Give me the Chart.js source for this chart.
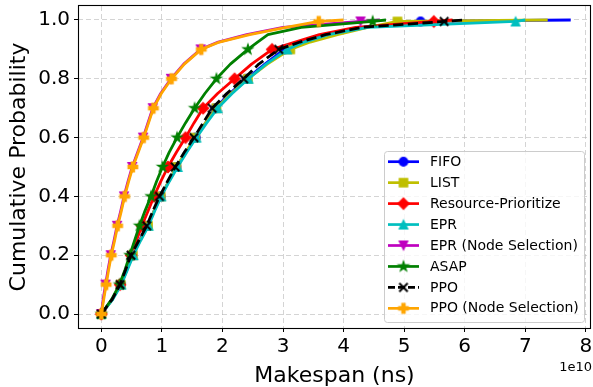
<!DOCTYPE html>
<html>
<head>
<meta charset="utf-8">
<script src="https://cdn.jsdelivr.net/npm/chart.js@4.4.1/dist/chart.umd.min.js"></script>
<style>
  html, body { margin: 0; padding: 0; background: #fff; }
  canvas { display: block; }
</style>
</head>
<body>
<canvas id="cdfChart" width="593" height="387"></canvas>
<script>
// cumulative probability levels shared by every curve
const probLevels = [0, 0.05, 0.1, 0.15, 0.2, 0.25, 0.3, 0.35, 0.4, 0.45, 0.5, 0.55, 0.6, 0.65, 0.7, 0.75, 0.8, 0.85, 0.9, 0.925, 0.95, 0.975, 0.995, 1.0];

// makespan at each level, in units of 1e10 ns
const fifo        = [0, 0.18, 0.32, 0.42, 0.51, 0.63, 0.76, 0.87, 0.98, 1.11, 1.24, 1.40, 1.56, 1.72, 1.88, 2.12, 2.40, 2.70, 3.02, 3.30, 3.70, 4.30, 5.27, 7.75];
const list        = [0, 0.18, 0.32, 0.42, 0.52, 0.64, 0.77, 0.87, 0.98, 1.11, 1.24, 1.39, 1.55, 1.72, 1.90, 2.14, 2.42, 2.74, 3.12, 3.45, 3.90, 4.40, 4.89, 7.37];
const resPrio     = [0, 0.18, 0.31, 0.40, 0.49, 0.58, 0.67, 0.77, 0.87, 0.98, 1.10, 1.24, 1.39, 1.53, 1.68, 1.92, 2.20, 2.48, 2.82, 3.20, 3.60, 4.20, 5.49, 5.80];
const epr         = [0, 0.19, 0.33, 0.43, 0.53, 0.65, 0.78, 0.88, 0.99, 1.12, 1.26, 1.41, 1.57, 1.74, 1.92, 2.16, 2.43, 2.72, 3.07, 3.35, 3.75, 4.40, 6.84, 7.00];
const eprNode     = [0, 0.03, 0.07, 0.11, 0.155, 0.21, 0.26, 0.32, 0.375, 0.44, 0.51, 0.60, 0.69, 0.77, 0.85, 0.98, 1.15, 1.36, 1.64, 1.93, 2.40, 3.00, 4.28, 4.60];
const asap        = [0, 0.17, 0.30, 0.39, 0.47, 0.55, 0.63, 0.72, 0.82, 0.91, 1.01, 1.12, 1.25, 1.39, 1.54, 1.71, 1.90, 2.13, 2.42, 2.58, 2.75, 3.30, 4.48, 4.70];
const ppo         = [0, 0.18, 0.31, 0.40, 0.49, 0.62, 0.75, 0.85, 0.96, 1.09, 1.22, 1.37, 1.53, 1.68, 1.83, 2.07, 2.35, 2.60, 2.93, 3.28, 3.70, 4.30, 5.66, 6.00];
const ppoNode     = [0, 0.04, 0.08, 0.12, 0.165, 0.22, 0.27, 0.33, 0.385, 0.45, 0.52, 0.61, 0.70, 0.78, 0.86, 0.99, 1.16, 1.37, 1.65, 1.95, 2.45, 3.05, 3.59, 4.00];

const seriesNames = ['FIFO', 'LIST', 'Resource-Prioritize', 'EPR', 'EPR (Node Selection)', 'ASAP', 'PPO', 'PPO (Node Selection)'];
const seriesData = [fifo, list, resPrio, epr, eprNode, asap, ppo, ppoNode];

const xTicks = [0, 1, 2, 3, 4, 5, 6, 7, 8];
const yTicks = [0, 0.2, 0.4, 0.6, 0.8, 1.0];

const colors  = ['#0000ff', '#bfbf00', '#ff0000', '#00bfbf', '#bf00bf', '#008000', '#000000', '#ffa500'];
const shapes  = ['o', 's', 'D', '^', 'v', '*', 'x', 'P'];
const dashes  = [[], [], [], [], [], [], [10.3, 4.4], []];

// small canvases used as point styles (matplotlib-like markers)
function makeMarker(shape, color) {
  const size = 18, m = size / 2;
  const c = document.createElement('canvas');
  c.width = c.height = size;
  const g = c.getContext('2d');
  g.fillStyle = color;
  g.strokeStyle = color;
  g.lineWidth = 1.2;
  g.beginPath();
  if (shape === 'o') {
    g.arc(m, m, 4.3, 0, Math.PI * 2);
  } else if (shape === 's') {
    g.rect(m - 4.2, m - 4.2, 8.4, 8.4);
  } else if (shape === 'D') {
    g.moveTo(m, m - 5.6); g.lineTo(m + 5.6, m); g.lineTo(m, m + 5.6); g.lineTo(m - 5.6, m);
    g.closePath();
  } else if (shape === '^' || shape === 'v') {
    const s = shape === '^' ? 1 : -1;
    g.moveTo(m, m - 4.3 * s); g.lineTo(m - 4.3, m + 4.3 * s); g.lineTo(m + 4.3, m + 4.3 * s);
    g.closePath();
  } else if (shape === '*') {
    for (let k = 0; k < 10; k++) {
      const r = k % 2 ? 2.0 : 5.2;
      const a = -Math.PI / 2 + k * Math.PI / 5;
      g.lineTo(m + r * Math.cos(a), m + r * Math.sin(a));
    }
    g.closePath();
  } else if (shape === 'P') {
    const r = 4.8, t = r / 3;
    const pts = [[-t, -r], [t, -r], [t, -t], [r, -t], [r, t], [t, t], [t, r], [-t, r], [-t, t], [-r, t], [-r, -t], [-t, -t]];
    pts.forEach(([px, py], k) => k ? g.lineTo(m + px, m + py) : g.moveTo(m + px, m + py));
    g.closePath();
  } else if (shape === 'x') {
    g.lineWidth = 2;
    g.moveTo(m - 4.2, m - 4.2); g.lineTo(m + 4.2, m + 4.2);
    g.moveTo(m + 4.2, m - 4.2); g.lineTo(m - 4.2, m + 4.2);
    g.stroke();
    return c;
  }
  g.fill();
  g.stroke();
  return c;
}

const markers = shapes.map((s, i) => makeMarker(s, colors[i]));

// markers every 10% of the points, like markevery
const isMarked = i => i < probLevels.length - 1 &&
  Math.abs(probLevels[i] * 10 - Math.round(probLevels[i] * 10)) < 0.06;

const datasets = seriesNames.map((name, i) => ({
  label: name,
  data: seriesData[i].map((x, k) => ({ x: x, y: probLevels[k] })),
  borderColor: colors[i],
  backgroundColor: colors[i],
  borderWidth: 2.8,
  borderDash: dashes[i],
  borderJoinStyle: 'round',
  tension: 0,
  pointStyle: markers[i],
  pointRadius: ctx => isMarked(ctx.dataIndex) ? 5 : 0,
  pointHoverRadius: 0,
  order: seriesNames.length - i
}));

const frameAndLegend = {
  id: 'frameAndLegend',
  afterDraw(chart) {
    const { ctx, chartArea: a } = chart;
    ctx.save();
    ctx.strokeStyle = '#000';
    ctx.lineWidth = 1.1;
    ctx.setLineDash([]);
    ctx.strokeRect(Math.round(a.left) + 0.5, Math.round(a.top) - 0.5,
      Math.round(a.right - a.left) - 1, Math.round(a.bottom - a.top) + 1);

    // legend box, lower right
    const w = 200, h = 171;
    const bx = a.right - 7 - w, by = a.bottom - 6 - h;
    ctx.beginPath();
    ctx.roundRect(bx + 0.5, by + 0.5, w, h, 3);
    ctx.fillStyle = 'rgba(255,255,255,0.8)';
    ctx.fill();
    ctx.strokeStyle = '#cccccc';
    ctx.lineWidth = 1;
    ctx.stroke();

    ctx.font = '14px "DejaVu Sans"';
    ctx.textBaseline = 'middle';
    ctx.textAlign = 'left';
    seriesNames.forEach((name, i) => {
      const y = by + 10.7 + i * 20.95;
      ctx.beginPath();
      ctx.setLineDash(dashes[i].length ? [7, 3] : []);
      ctx.strokeStyle = colors[i];
      ctx.lineWidth = 2.7;
      ctx.moveTo(bx + 4, y);
      ctx.lineTo(bx + 35, y);
      ctx.stroke();
      ctx.setLineDash([]);
      ctx.drawImage(markers[i], bx + 19.5 - 9, y - 9);
      ctx.fillStyle = '#000';
      ctx.fillText(name, bx + 46, y + 0.5);
    });

    // scale offset text
    ctx.font = '13px "DejaVu Sans"';
    ctx.textAlign = 'right';
    ctx.fillText('1e10', a.right + 1, 368);
    ctx.restore();
  }
};

Chart.defaults.font.family = '"DejaVu Sans"';
Chart.defaults.color = '#000';

new Chart(document.getElementById('cdfChart'), {
  type: 'line',
  data: { datasets: datasets },
  options: {
    responsive: false,
    animation: false,
    devicePixelRatio: 1,
    layout: { autoPadding: false, padding: { top: 6, right: 2, left: 0, bottom: 0 } },
    plugins: { legend: { display: false }, tooltip: { enabled: false } },
    scales: {
      x: {
        type: 'linear',
        min: -0.385,
        max: 8.085,
        afterBuildTicks: s => { s.ticks = xTicks.map(v => ({ value: v })); },
        afterFit: s => { s.height = 59; s.paddingLeft = 0; s.paddingRight = 0; },
        ticks: { font: { size: 20 }, padding: 3, maxRotation: 0, callback: v => String(v) },
        grid: { color: 'rgba(176,176,176,0.55)', lineWidth: 1, tickLength: 4, tickColor: '#000', tickWidth: 1, tickBorderDash: [] },
        border: { display: false, dash: [5, 3] },
        title: { display: true, text: 'Makespan (ns)', font: { size: 22, lineHeight: 1.0 }, padding: { top: 0, bottom: 0 } }
      },
      y: {
        type: 'linear',
        min: -0.0476,
        max: 1.0476,
        afterBuildTicks: s => { s.ticks = yTicks.map(v => ({ value: v })); },
        afterFit: s => { s.width = 78; s.paddingTop = 0; s.paddingBottom = 0; },
        ticks: { font: { size: 20 }, padding: 4, callback: v => v.toFixed(1) },
        grid: { color: 'rgba(176,176,176,0.55)', lineWidth: 1, tickLength: 4, tickColor: '#000', tickWidth: 1, tickBorderDash: [] },
        border: { display: false, dash: [5, 3] },
        title: { display: true, text: 'Cumulative Probability', font: { size: 22, lineHeight: 1.0 }, padding: { top: 8, bottom: 0 } }
      }
    }
  },
  plugins: [frameAndLegend]
});
</script>
</body>
</html>
